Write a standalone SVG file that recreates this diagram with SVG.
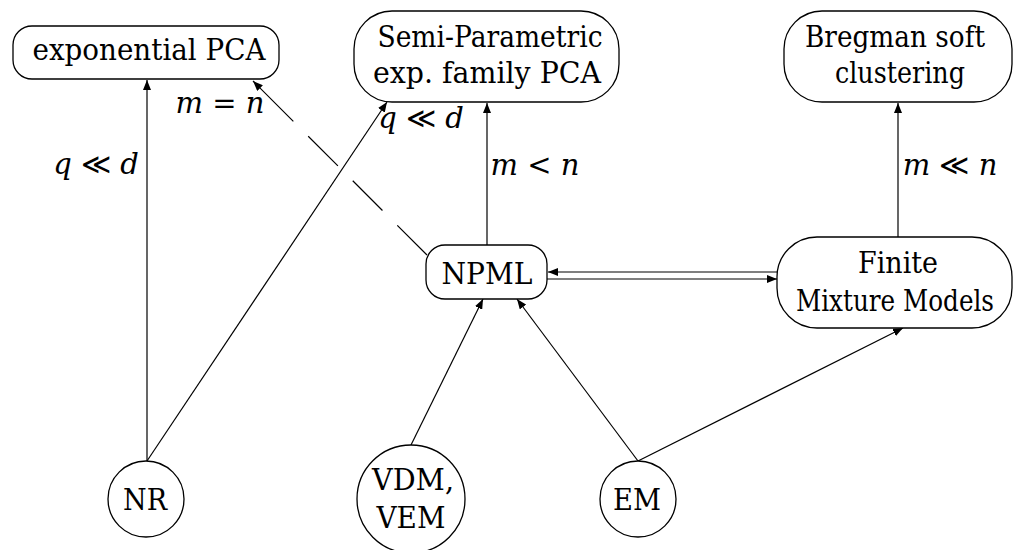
<svg xmlns="http://www.w3.org/2000/svg" width="1013" height="550" viewBox="0 0 1013 550">
<style>
.box{fill:#fff;stroke:#000;stroke-width:1.3}
text{font-family:'DejaVu Serif','Liberation Serif',serif;font-size:29px;fill:#000;text-anchor:middle}
.i{font-style:italic}
.e{fill:none;stroke:#000;stroke-width:1.2;marker-end:url(#ah)}
</style>
<defs>
<marker id="ah" viewBox="0 0 10 8" refX="10" refY="4" markerWidth="10" markerHeight="8" markerUnits="userSpaceOnUse" orient="auto">
<path d="M0,0 L10,4 L0,8 Z" fill="#000"/>
</marker>
</defs>
<rect width="1013" height="550" fill="#fff"/>
<g id="connectors">
<line class="e" x1="147" y1="461" x2="147" y2="80"/>
<line class="e" x1="147" y1="461" x2="387" y2="102"/>
<line class="e" x1="427" y1="255" x2="253" y2="81" stroke-dasharray="42 21 42 21 42 21 90 0"/>
<line class="e" x1="487" y1="245" x2="487" y2="103"/>
<line class="e" x1="898" y1="237" x2="898" y2="103"/>
<line class="e" x1="777" y1="272" x2="548" y2="272"/>
<line class="e" x1="547" y1="279" x2="777" y2="279"/>
<line class="e" x1="411" y1="445" x2="483" y2="299"/>
<line class="e" x1="638" y1="461" x2="517" y2="299"/>
<line class="e" x1="638" y1="461" x2="903" y2="328"/>
<text x="220" y="113"><tspan class="i">m</tspan> = <tspan class="i">n</tspan></text>
<text x="96" y="174"><tspan class="i">q</tspan> ≪ <tspan class="i">d</tspan></text>
<text x="421" y="128"><tspan class="i">q</tspan> ≪ <tspan class="i">d</tspan></text>
<text x="535" y="175"><tspan class="i">m</tspan> &lt; <tspan class="i">n</tspan></text>
<text x="950" y="175"><tspan class="i">m</tspan> ≪ <tspan class="i">n</tspan></text>
</g>
<g id="expPCA">
<rect class="box" x="13" y="26" width="266" height="53" rx="19"/>
<text x="149" y="60" textLength="233" lengthAdjust="spacingAndGlyphs">exponential PCA</text>
</g>
<g id="semiPCA">
<rect class="box" x="354" y="11" width="265" height="91" rx="38"/>
<text x="490" y="47" textLength="225" lengthAdjust="spacingAndGlyphs">Semi-Parametric</text>
<text x="487" y="83" textLength="228" lengthAdjust="spacingAndGlyphs">exp. family PCA</text>
</g>
<g id="bregman">
<rect class="box" x="784" y="11" width="228" height="91" rx="38"/>
<text x="895" y="47" textLength="180" lengthAdjust="spacingAndGlyphs">Bregman soft</text>
<text x="900" y="83" textLength="130" lengthAdjust="spacingAndGlyphs">clustering</text>
</g>
<g id="npml">
<rect class="box" x="426" y="245" width="121" height="54" rx="19"/>
<text x="487" y="284" textLength="91" lengthAdjust="spacingAndGlyphs">NPML</text>
</g>
<g id="fmm">
<rect class="box" x="777" y="237" width="235" height="91" rx="40"/>
<text x="898" y="273" textLength="80" lengthAdjust="spacingAndGlyphs">Finite</text>
<text x="895" y="311" font-size="28" textLength="198" lengthAdjust="spacingAndGlyphs">Mixture Models</text>
</g>
<g id="nr">
<circle class="box" cx="146" cy="499" r="38"/>
<text x="145" y="510" textLength="44" lengthAdjust="spacingAndGlyphs">NR</text>
</g>
<g id="vdm">
<circle class="box" cx="411" cy="499" r="54"/>
<text x="413" y="490" textLength="82" lengthAdjust="spacingAndGlyphs">VDM,</text>
<text x="411" y="528" textLength="69" lengthAdjust="spacingAndGlyphs">VEM</text>
</g>
<g id="em">
<circle class="box" cx="638" cy="499" r="38"/>
<text x="637" y="510" textLength="48" lengthAdjust="spacingAndGlyphs">EM</text>
</g>
</svg>
